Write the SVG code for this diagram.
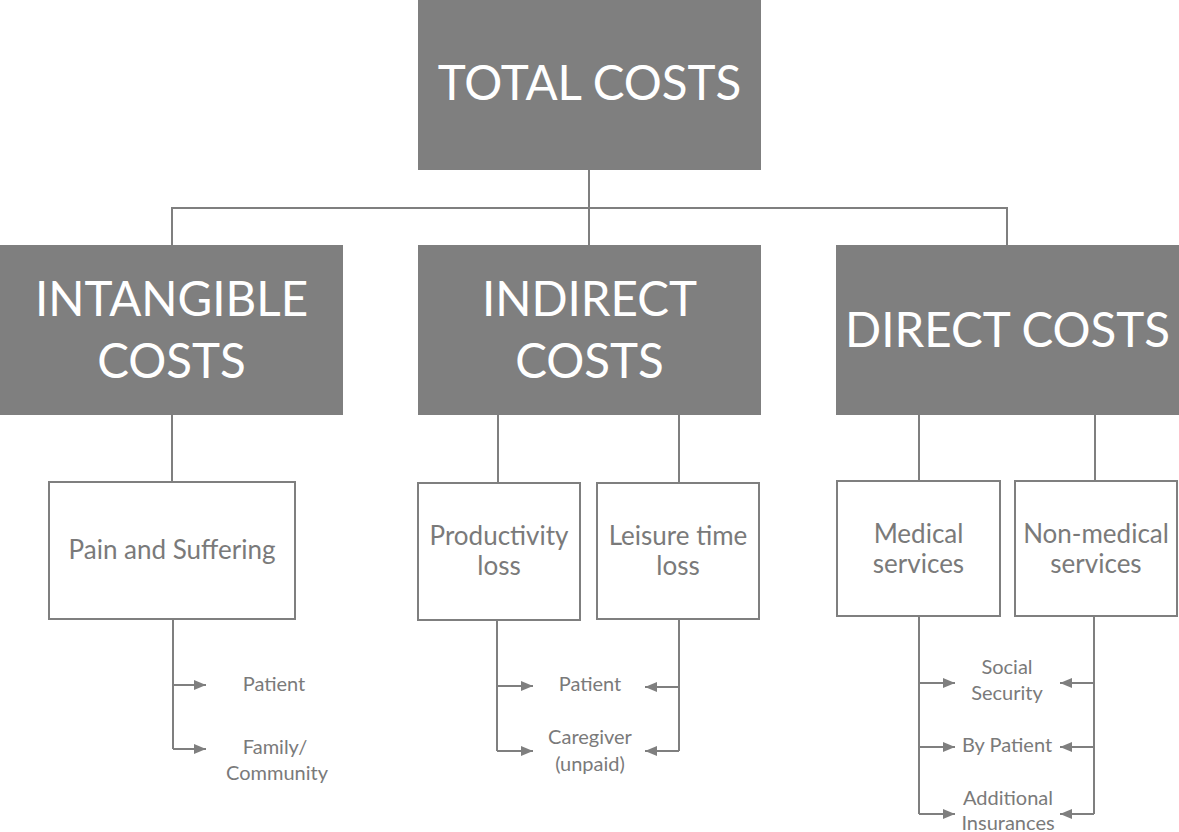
<svg xmlns="http://www.w3.org/2000/svg" width="1179" height="832" viewBox="0 0 1179 832">
<style>
.dark{fill:#7f7f7f}
.lite{fill:#fff;stroke:#7f7f7f;stroke-width:2}
.big{font-family:Lato,"Open Sans",sans-serif;fill:#fff;text-anchor:middle;font-size:47.5px}
.mid{font-family:Lato,"Open Sans",sans-serif;fill:#7a7a7a;text-anchor:middle;font-size:26px}
.sm{font-family:Lato,"Open Sans",sans-serif;fill:#7a7a7a;text-anchor:middle;font-size:20px}
.ln{fill:none;stroke:#7f7f7f;stroke-width:2}
.ar{fill:none;stroke:#7f7f7f;stroke-width:2;marker-end:url(#ah)}
</style>
<defs>
<marker id="ah" viewBox="0 0 12 10" refX="12" refY="5" markerWidth="6" markerHeight="5" markerUnits="strokeWidth" orient="auto">
<path d="M0,0 L12,5 L0,10 z" fill="#7f7f7f"/>
</marker>
</defs>
<g id="connectors">
<path class="ln" d="M589,170 V245 M172,245 V208 H1007 V245"/>
<path class="ln" d="M172,415 V482 M498,415 V483 M679,415 V483 M919,415 V481 M1095,415 V481"/>
<path class="ln" d="M173,620 V749"/>
<path class="ar" d="M173,685 H206"/>
<path class="ar" d="M173,749 H206"/>
<path class="ln" d="M497,620 V751 M679,620 V751"/>
<path class="ar" d="M497,686 H533"/>
<path class="ar" d="M497,751 H533"/>
<path class="ar" d="M679,687 H645"/>
<path class="ar" d="M679,751 H645"/>
<path class="ln" d="M919,616 V814 M1094,616 V814"/>
<path class="ar" d="M919,683 H955"/>
<path class="ar" d="M919,747 H955"/>
<path class="ar" d="M919,814 H955"/>
<path class="ar" d="M1094,683 H1060"/>
<path class="ar" d="M1094,747 H1060"/>
<path class="ar" d="M1094,814 H1060"/>
</g>
<g id="total">
<rect class="dark" x="418" y="0" width="343" height="170"/>
<text class="big" x="589.5" y="100">TOTAL COSTS</text>
</g>
<g id="intangible">
<rect class="dark" x="0" y="245" width="343" height="170"/>
<text class="big" x="171.5" y="316">INTANGIBLE</text>
<text class="big" x="171.5" y="378">COSTS</text>
</g>
<g id="indirect">
<rect class="dark" x="418" y="245" width="343" height="170"/>
<text class="big" x="589.5" y="316">INDIRECT</text>
<text class="big" x="589.5" y="378">COSTS</text>
</g>
<g id="direct">
<rect class="dark" x="836" y="245" width="343" height="170"/>
<text class="big" x="1007.5" y="347">DIRECT COSTS</text>
</g>
<g id="pain">
<rect class="lite" x="49" y="482" width="246" height="137"/>
<text class="mid" x="172" y="559">Pain and Suffering</text>
</g>
<g id="productivity">
<rect class="lite" x="418" y="483" width="162" height="137"/>
<text class="mid" x="499" y="545">Productivity</text>
<text class="mid" x="499" y="575">loss</text>
</g>
<g id="leisure">
<rect class="lite" x="597" y="483" width="162" height="136"/>
<text class="mid" x="678" y="545">Leisure time</text>
<text class="mid" x="678" y="575">loss</text>
</g>
<g id="medical">
<rect class="lite" x="837" y="481" width="163" height="135"/>
<text class="mid" x="918.5" y="543">Medical</text>
<text class="mid" x="918.5" y="573">services</text>
</g>
<g id="nonmedical">
<rect class="lite" x="1015" y="481" width="162" height="135"/>
<text class="mid" x="1096" y="543">Non-medical</text>
<text class="mid" x="1096" y="573">services</text>
</g>
<g id="labels">
<text class="sm" x="274" y="691">Patient</text>
<text class="sm" x="275" y="754">Family/</text>
<text class="sm" x="277" y="780">Community</text>
<text class="sm" x="590" y="691">Patient</text>
<text class="sm" x="590" y="744">Caregiver</text>
<text class="sm" x="590" y="771">(unpaid)</text>
<text class="sm" x="1007" y="674">Social</text>
<text class="sm" x="1007" y="700">Security</text>
<text class="sm" x="1007" y="752">By Patient</text>
<text class="sm" x="1008" y="805">Additional</text>
<text class="sm" x="1008" y="830">Insurances</text>
</g>
</svg>
